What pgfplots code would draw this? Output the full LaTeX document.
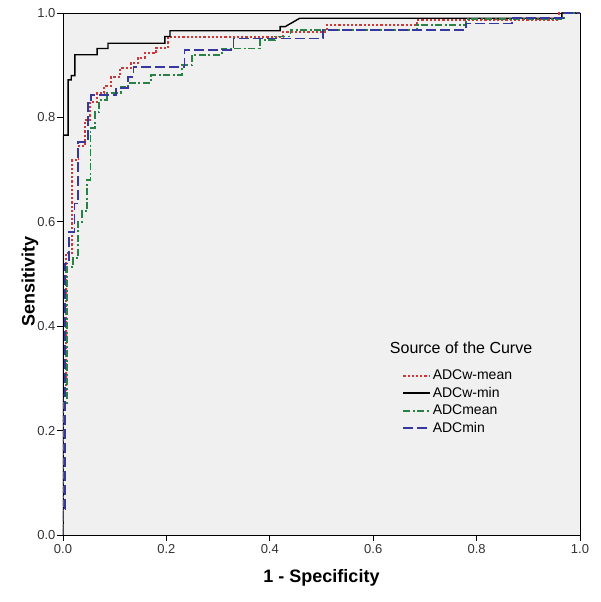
\documentclass[border=0pt]{standalone}
\usepackage{pgfplots}
\pgfplotsset{compat=1.18}
\usepackage{fontspec}
\setmainfont{Liberation Sans}

\definecolor{bgc}{RGB}{240,240,240}
\definecolor{cred}{RGB}{205,55,55}
\definecolor{cgreen}{RGB}{40,130,70}
\definecolor{cblue}{RGB}{55,55,160}

\begin{document}
\begin{tikzpicture}[x=1pt,y=1pt]
\begin{axis}[
  at={(0,0)}, anchor=south west,
  scale only axis, width=517pt, height=522pt,
  xmin=0, xmax=1, ymin=0, ymax=1,
  axis background/.style={fill=bgc},
  axis line style={line width=0.9pt},
  xtick={0,0.2,0.4,0.6,0.8,1}, ytick={0,0.2,0.4,0.6,0.8,1},
  xticklabels={0.0,0.2,0.4,0.6,0.8,1.0},
  yticklabels={0.0,0.2,0.4,0.6,0.8,1.0},
  xtick pos=bottom, ytick pos=left, tick align=outside,
  major tick length=6pt, tick style={line width=0.9pt, black},
  xticklabel style={font=\fontsize{13}{15}\selectfont, text=black!80},
  yticklabel style={font=\fontsize{13}{15}\selectfont, xshift=2pt, text=black!80},
  xlabel={\textbf{1 - Specificity}},
  ylabel={\textbf{Sensitivity}},
  xlabel style={at={(axis description cs:0.5,0)}, anchor=center, yshift=-43pt, font=\fontsize{18}{20}\selectfont},
  ylabel style={at={(axis description cs:-0.064,0.485)}, anchor=center, font=\fontsize{18}{20}\selectfont},
  legend style={draw=none, fill=none, at={(axis cs:0.656,0.322)}, anchor=north west,
    font=\fontsize{14}{16}\selectfont, inner sep=0pt, row sep=0.5pt,
    nodes={inner sep=1.5pt, text height=11pt, text depth=3pt}},
  legend cell align=left,
  legend image code/.code={\draw[#1] (0pt,0pt) -- (27pt,0pt);},
]
% ADCw-mean
\addplot[cred, line width=1.9pt, dash pattern=on 2.2pt off 2pt] coordinates {
(0,0) (0,0.27) (0.005,0.27) (0.005,0.54) (0.017,0.54) (0.017,0.718) (0.03,0.718) (0.03,0.745)
(0.042,0.745) (0.042,0.795) (0.052,0.795) (0.052,0.83) (0.066,0.83) (0.066,0.847) (0.08,0.847)
(0.08,0.86) (0.093,0.86) (0.093,0.877) (0.11,0.877) (0.11,0.894) (0.131,0.894) (0.131,0.904)
(0.145,0.904) (0.145,0.914) (0.159,0.914) (0.159,0.923) (0.18,0.923) (0.18,0.933) (0.203,0.933)
(0.203,0.954) (0.426,0.954) (0.426,0.964) (0.51,0.964) (0.51,0.977) (0.685,0.977) (0.685,0.987)
(0.96,0.987) (0.96,1) (1,1)};
\addlegendentry{ADCw-mean}
% ADCw-min
\addplot[black, line width=1.4pt] coordinates {
(0,0) (0,0.766) (0.01,0.766) (0.01,0.872) (0.016,0.872) (0.016,0.88) (0.023,0.88) (0.023,0.92)
(0.066,0.92) (0.066,0.932) (0.087,0.932) (0.087,0.942) (0.197,0.942) (0.197,0.955) (0.207,0.955)
(0.207,0.966) (0.42,0.966) (0.42,0.974) (0.43,0.974) (0.458,0.99) (0.965,0.99) (0.965,1) (1,1)};
\addlegendentry{ADCw-min}
% ADCmean
\addplot[cgreen, line width=1.8pt, dash pattern=on 7pt off 2.5pt on 2pt off 2.5pt] coordinates {
(0,0) (0,0.253) (0.008,0.253) (0.008,0.513) (0.019,0.513) (0.019,0.53) (0.029,0.53) (0.029,0.6)
(0.037,0.6) (0.037,0.62) (0.047,0.62) (0.047,0.68) (0.053,0.68) (0.053,0.78) (0.062,0.78)
(0.062,0.81) (0.07,0.81) (0.07,0.833) (0.085,0.833) (0.085,0.847) (0.112,0.847) (0.112,0.858)
(0.126,0.858) (0.126,0.866) (0.17,0.866) (0.17,0.881) (0.23,0.881) (0.23,0.9) (0.25,0.9)
(0.25,0.92) (0.307,0.92) (0.307,0.932) (0.381,0.932) (0.381,0.948) (0.41,0.948) (0.41,0.955)
(0.44,0.955) (0.44,0.967) (0.685,0.967) (0.685,0.977) (0.78,0.977) (0.78,0.988) (0.97,0.988)
(0.97,1) (1,1)};
\addlegendentry{ADCmean}
% ADCmin
\addplot[cblue, line width=1.6pt, dash pattern=on 10pt off 4pt] coordinates {
(0,0) (0,0.05) (0.004,0.05) (0.004,0.52) (0.012,0.52) (0.012,0.58) (0.022,0.58) (0.022,0.635)
(0.029,0.635) (0.029,0.753) (0.048,0.753) (0.048,0.83) (0.054,0.83) (0.054,0.843) (0.103,0.843)
(0.103,0.856) (0.126,0.856) (0.126,0.877) (0.136,0.877) (0.136,0.897) (0.235,0.897) (0.235,0.929)
(0.33,0.929) (0.33,0.951) (0.503,0.951) (0.503,0.967) (0.78,0.967) (0.78,0.98) (0.868,0.98)
(0.868,0.99) (0.967,0.99) (0.967,1) (1,1)};
\addlegendentry{ADCmin}
\node[anchor=west, font=\fontsize{16}{18}\selectfont, inner sep=0pt] at (rel axis cs:0.632,0.358) {Source of the Curve};
\end{axis}
\pgfresetboundingbox
\path[use as bounding box] (-63,-67) rectangle (537,535);
\end{tikzpicture}
\end{document}
